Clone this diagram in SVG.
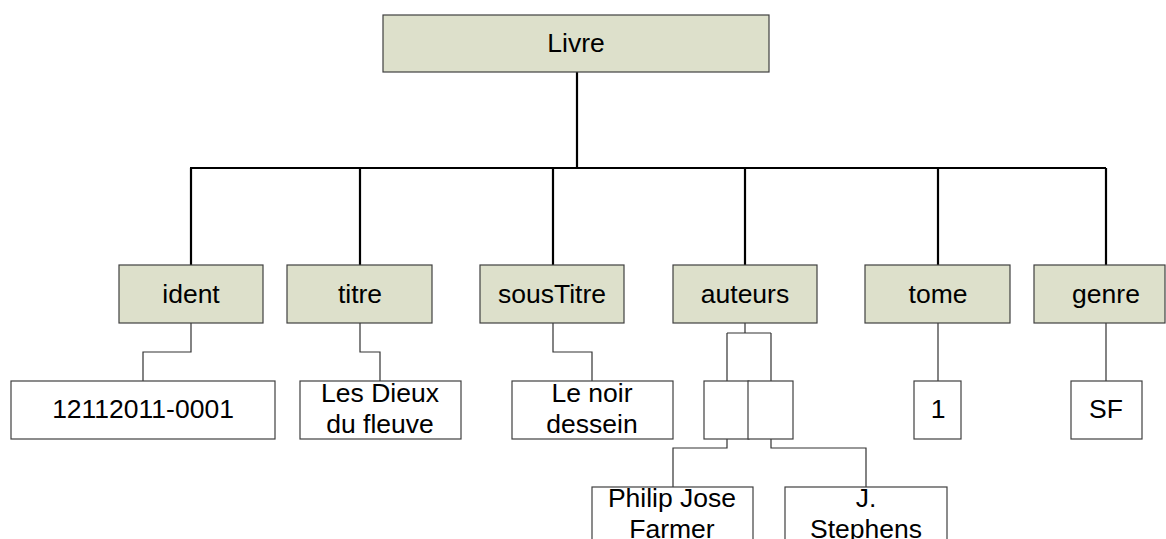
<svg xmlns="http://www.w3.org/2000/svg" width="1166" height="539" viewBox="0 0 1166 539">
<style>
.hdr{fill:#dde0cb;stroke:#404040;stroke-width:1.2}
.val{fill:#ffffff;stroke:#404040;stroke-width:1.2}
.t{font-family:"Liberation Sans",Arial,sans-serif;font-size:26.5px;fill:#000;text-anchor:middle}
.main{fill:none;stroke:#000;stroke-width:2.2}
.sub{fill:none;stroke:#333;stroke-width:1.2}
</style>
<rect width="1166" height="539" fill="#fff"/>
<g id="connectors">
<path class="main" d="M577 72V168M190 168H1106M191 168V265M360 168V265M553 168V265M745 168V265M938 168V265M1106 168V265"/>
<path class="sub" d="M191 323V352H143V381M360 323V352H380V381M553 323V352H592V381M745 323V333M727 333H771M727 333V381M771 333V381M727 409V448H673V487M771 409V448H866V487M938 323V381M1106 323V381"/>
</g>
<g id="livre"><rect class="hdr" x="383" y="15" width="386" height="57"/><text class="t" x="576" y="52">Livre</text></g>
<g id="ident"><rect class="hdr" x="119" y="265" width="144" height="58"/><text class="t" x="191" y="303">ident</text></g>
<g id="titre"><rect class="hdr" x="287" y="265" width="145" height="58"/><text class="t" x="360" y="303">titre</text></g>
<g id="sousTitre"><rect class="hdr" x="480" y="265" width="144" height="58"/><text class="t" x="552" y="303">sousTitre</text></g>
<g id="auteurs"><rect class="hdr" x="673" y="265" width="144" height="58"/><text class="t" x="745" y="303">auteurs</text></g>
<g id="tome"><rect class="hdr" x="865" y="265" width="145" height="58"/><text class="t" x="938" y="303">tome</text></g>
<g id="genre"><rect class="hdr" x="1034" y="265" width="131" height="58"/><text class="t" x="1106" y="303">genre</text></g>
<g id="v-ident"><rect class="val" x="11" y="381" width="264" height="58"/><text class="t" x="143" y="418">12112011-0001</text></g>
<g id="v-titre"><rect class="val" x="300" y="381" width="161" height="58"/><text class="t" x="380" y="402">Les Dieux</text><text class="t" x="380" y="433">du fleuve</text></g>
<g id="v-sousTitre"><rect class="val" x="512" y="381" width="161" height="58"/><text class="t" x="592" y="402">Le noir</text><text class="t" x="592" y="433">dessein</text></g>
<g id="auteur1"><rect class="val" x="704" y="381" width="45" height="58"/></g>
<g id="auteur2"><rect class="val" x="748" y="381" width="45" height="58"/></g>
<g id="v-tome"><rect class="val" x="914" y="381" width="47" height="58"/><text class="t" x="938" y="418">1</text></g>
<g id="v-genre"><rect class="val" x="1071" y="381" width="71" height="58"/><text class="t" x="1106" y="418">SF</text></g>
<g id="v-auteur1"><rect class="val" x="592" y="487" width="161" height="70"/><text class="t" x="672" y="507">Philip Jose</text><text class="t" x="672" y="538">Farmer</text></g>
<g id="v-auteur2"><rect class="val" x="785" y="487" width="162" height="70"/><text class="t" x="866" y="507">J.</text><text class="t" x="866" y="538">Stephens</text></g>
</svg>
